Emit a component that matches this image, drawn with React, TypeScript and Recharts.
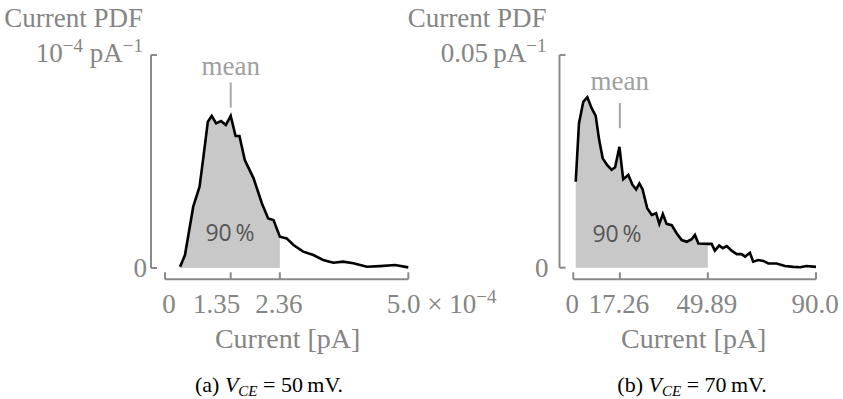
import { ComposedChart, Area, Line, XAxis, YAxis, ReferenceLine, ReferenceDot } from "recharts";

// (a) V_CE = 50 mV, current in units of 1e-4 pA, pdf normalised to the top tick
const currentA = [0.31, 0.41, 0.58, 0.71, 0.79, 0.88, 0.96, 1.05, 1.15, 1.25, 1.35, 1.45, 1.53, 1.64, 1.82, 1.99, 2.12, 2.23, 2.36, 2.5, 2.64, 2.84, 3.05, 3.25, 3.46, 3.66, 3.87, 4.15, 4.42, 4.73, 5.0];
const pdfA = [0.006, 0.061, 0.288, 0.382, 0.523, 0.687, 0.714, 0.679, 0.69, 0.671, 0.714, 0.62, 0.62, 0.507, 0.421, 0.304, 0.233, 0.225, 0.147, 0.139, 0.108, 0.077, 0.061, 0.038, 0.025, 0.03, 0.022, 0.006, 0.009, 0.014, 0.003];
const meanA = 1.35;
const cutA = 2.36;
const xTicksA = [0, 1.35, 2.36, 5.0];
const yTicksA = [0, 1];

// (b) V_CE = 70 mV, current in pA, pdf in 1/pA
const currentB = [0.9, 2.1, 3.7, 5.2, 6.8, 8.3, 9.6, 10.9, 12.6, 14.2, 15.5, 17.1, 18.5, 20.4, 22.0, 23.3, 24.5, 25.7, 27.4, 29.1, 30.7, 31.9, 33.2, 34.6, 36.5, 38.3, 40.2, 42.1, 43.9, 45.1, 46.4, 49.89, 51.3, 52.5, 54.1, 55.4, 56.9, 58.7, 60.6, 62.4, 63.7, 65.5, 66.7, 68.6, 70.5, 72.3, 75.4, 78.5, 81.6, 84.1, 86.5, 90.0];
const pdfB = [0.0202, 0.0339, 0.039, 0.0401, 0.0375, 0.0357, 0.03, 0.0257, 0.0241, 0.023, 0.0236, 0.0284, 0.0208, 0.0218, 0.0194, 0.0184, 0.0198, 0.0184, 0.014, 0.0124, 0.0128, 0.0103, 0.0126, 0.0103, 0.01, 0.0081, 0.0065, 0.0061, 0.0067, 0.0077, 0.0057, 0.0056, 0.0056, 0.004, 0.0052, 0.0046, 0.0051, 0.004, 0.0032, 0.0032, 0.0026, 0.0035, 0.0014, 0.0018, 0.0016, 0.001, 0.001, 0.0004, 0.0002, 0.0001, 0.0004, 0.0002];
const meanB = 17.26;
const cutB = 49.89;
const xTicksB = [0, 17.26, 49.89, 90.0];
const yTicksB = [0, 0.05];

const GRAY = "#8a8a8a";
const LABEL = "#858585";
const SERIF = "'Liberation Serif', serif";
const NUM_SIZE = 27;
const TITLE_SIZE = 27;
const XLABEL_SIZE = 28;

const buildRows = (xs: number[], ys: number[], cut: number) =>
  xs.map((x, i) => ({ x, pdf: ys[i], shade: x <= cut + 1e-9 ? ys[i] : null }));

function XTick(props: any) {
  const { x, y, payload, shifts, sci } = props;
  const v = payload.value;
  const idx = props.index ?? 0;
  const dx = shifts[idx] ?? 0;
  const isLast = sci && idx === shifts.length - 1;
  return (
    <g>
      <line x1={x} x2={x} y1={y} y2={y - 7} stroke={GRAY} strokeWidth={2} />
      {isLast ? (
        <text x={x + dx} y={y + 34} textAnchor="start" fill={LABEL} fontFamily={SERIF} fontSize={NUM_SIZE}>
          <tspan>{v.toFixed(1)} × 10</tspan>
          <tspan dy={-10} fontSize={19}>−4</tspan>
        </text>
      ) : (
        <text x={x + dx} y={y + 34} textAnchor="middle" fill={LABEL} fontFamily={SERIF} fontSize={NUM_SIZE}>
          {v === 0 ? "0" : v === 90 ? "90.0" : String(v)}
        </text>
      )}
    </g>
  );
}

function YTick(props: any) {
  const { x, y, payload, top, topGap, zeroGap } = props;
  const isTop = payload.value !== 0;
  return (
    <g>
      <line x1={x} x2={x + 6} y1={y} y2={y} stroke={GRAY} strokeWidth={2} />
      {isTop ? (
        <g>
          <text x={x - topGap} y={y - 28} textAnchor="end" fill={LABEL} fontFamily={SERIF} fontSize={TITLE_SIZE}>
            Current PDF
          </text>
          <text x={x - topGap} y={y + 7} textAnchor="end" fill={LABEL} fontFamily={SERIF} fontSize={NUM_SIZE}>
            {top}
          </text>
        </g>
      ) : (
        <text x={x - zeroGap} y={y + 9} textAnchor="end" fill={LABEL} fontFamily={SERIF} fontSize={NUM_SIZE}>
          0
        </text>
      )}
    </g>
  );
}

function PdfPanel(props: any) {
  const { rows, xDomain, yDomain, xTicks, yTicks, mean, meanSpan, meanGap, pct, margin, shifts, sci, top, labelShift, topGap, zeroGap } = props;
  return (
    <ComposedChart width={843} height={399} data={rows} margin={margin}>
      <XAxis
        type="number"
        dataKey="x"
        domain={xDomain}
        ticks={xTicks}
        interval={0}
        axisLine={false}
        tickLine={false}
        tickSize={0}
        tickMargin={0}
        height={40}
        tick={(p: any) => <XTick {...p} shifts={shifts} sci={sci} />}
        label={{
          content: ({ viewBox }: any) => (
            <text
              x={viewBox.x + viewBox.width / 2 + labelShift}
              y={viewBox.y + 69}
              textAnchor="middle"
              fill={LABEL}
              fontFamily={SERIF}
              fontSize={XLABEL_SIZE}
            >
              Current [pA]
            </text>
          ),
        }}
      />
      <YAxis
        type="number"
        domain={yDomain}
        ticks={yTicks}
        interval={0}
        axisLine={false}
        tickLine={false}
        tickSize={0}
        tickMargin={0}
        width={60}
        tick={(p: any) => <YTick {...p} top={top} topGap={topGap} zeroGap={zeroGap} />}
      />
      <Area
        dataKey="shade"
        type="linear"
        fill="#c8c8c8"
        fillOpacity={1}
        stroke="none"
        baseValue={0}
        isAnimationActive={false}
      />
      <Line dataKey="pdf" type="linear" stroke="#000" strokeWidth={2.6} dot={false} isAnimationActive={false} />
      <ReferenceLine
        segment={[{ x: xDomain[0], y: 0 }, { x: xDomain[0], y: yTicks[1] }]}
        stroke={GRAY}
        strokeWidth={2}
      />
      <ReferenceLine
        segment={[{ x: 0, y: yDomain[0] }, { x: xTicks[xTicks.length - 1], y: yDomain[0] }]}
        stroke={GRAY}
        strokeWidth={2}
      />
      <ReferenceLine
        segment={[{ x: mean, y: meanSpan[0] }, { x: mean, y: meanSpan[1] }]}
        stroke="#a8a8a8"
        strokeWidth={2}
        label={{ value: "mean", position: "top", offset: meanGap, fill: "#a0a0a0", fontFamily: SERIF, fontSize: NUM_SIZE }}
      />
      <ReferenceDot
        x={pct[0]}
        y={pct[1]}
        r={0}
        fill="none"
        stroke="none"
        label={{ value: "90\u2009%", position: "center", fill: "#555", fontFamily: "'Open Sans', sans-serif", fontSize: 23 }}
      />
    </ComposedChart>
  );
}

export default function App() {
  const rowsA = buildRows(currentA, pdfA, cutA);
  const rowsB = buildRows(currentB, pdfB, cutB);
  return (
    <div style={{ position: "absolute", left: 0, top: 0, width: 843, height: 399, background: "#fff", overflow: "hidden" }}>
      <div style={{ position: "absolute", left: 0, top: 0 }}>
        <PdfPanel
          rows={rowsA}
          xDomain={[-0.288, 5.0]}
          yDomain={[-0.053, 1]}
          xTicks={xTicksA}
          yTicks={yTicksA}
          mean={meanA}
          meanSpan={[0.753, 0.871]}
          meanGap={7}
          pct={[1.336, 0.165]}
          margin={{ top: 55, right: 434.7, bottom: 79.7, left: 91 }}
          shifts={[4, -14, -1, -21.6]}
          sci={true}
          labelShift={8}
          topGap={8}
          zeroGap={4}
          top={
            <>
              <tspan>10</tspan>
              <tspan dy={-10} fontSize={19}>−4</tspan>
              <tspan dy={10}> pA</tspan>
              <tspan dy={-10} fontSize={19}>−1</tspan>
            </>
          }
        />
      </div>
      <div style={{ position: "absolute", left: 0, top: 0 }}>
        <PdfPanel
          rows={rowsB}
          xDomain={[-5.12, 90]}
          yDomain={[-0.00273, 0.05]}
          xTicks={xTicksB}
          yTicks={yTicksB}
          mean={meanB}
          meanSpan={[0.0328, 0.0387]}
          meanGap={13}
          pct={[16.2, 0.0079]}
          margin={{ top: 55, right: 27, bottom: 79.7, left: 499.5 }}
          shifts={[-1, -1, -1, -1]}
          sci={false}
          labelShift={6}
          topGap={13}
          zeroGap={11}
          top={
            <>
              <tspan>0.05{"\u2009"}pA</tspan>
              <tspan dy={-10} fontSize={19}>−1</tspan>
            </>
          }
        />
      </div>
      <svg width={843} height={399} style={{ position: "absolute", left: 0, top: 0, pointerEvents: "none" }}>
        <text x={269} y={391.5} textAnchor="middle" fontFamily={SERIF} fontSize={22} fill="#000">
          <tspan>(a)  </tspan>
          <tspan fontStyle="italic">V</tspan>
          <tspan fontStyle="italic" fontSize={15} dy={4}>CE</tspan>
          <tspan dy={-4}> = 50{"\u2009"}mV.</tspan>
        </text>
        <text x={692} y={391.5} textAnchor="middle" fontFamily={SERIF} fontSize={22} fill="#000">
          <tspan>(b)  </tspan>
          <tspan fontStyle="italic">V</tspan>
          <tspan fontStyle="italic" fontSize={15} dy={4}>CE</tspan>
          <tspan dy={-4}> = 70{"\u2009"}mV.</tspan>
        </text>
      </svg>
    </div>
  );
}
